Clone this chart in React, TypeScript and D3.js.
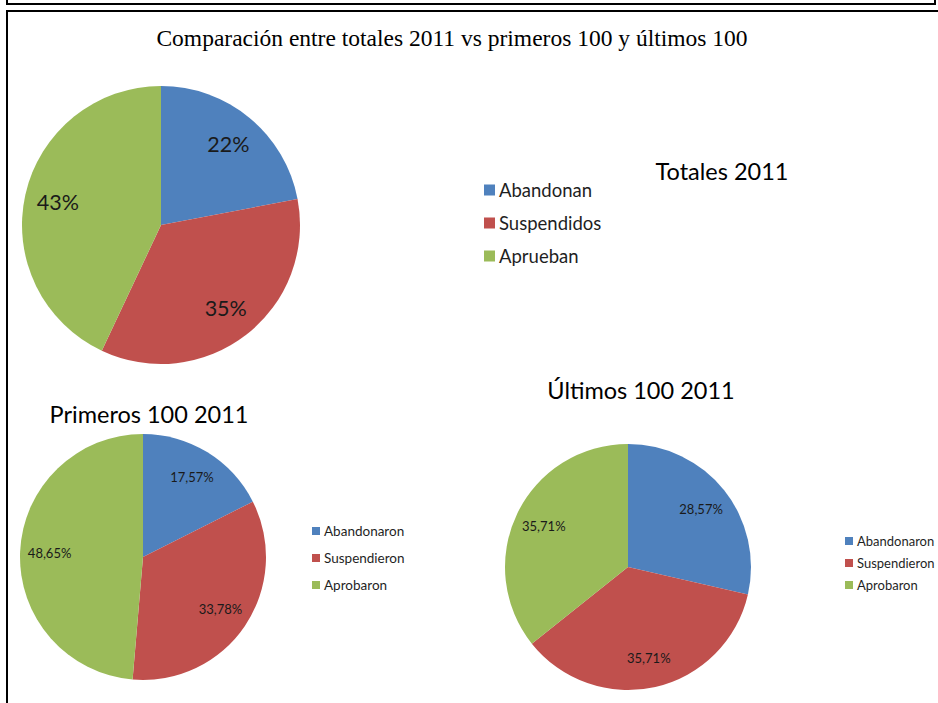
import React from 'react';
import * as d3 from 'd3';

// Datos
const colores = ['#4F81BD', '#C0504D', '#9BBB59'];

const totalesCategorias = ['Abandonan', 'Suspendidos', 'Aprueban'];
const totalesValores = [22, 35, 43];
const totalesEtiquetas = ['22%', '35%', '43%'];

const primerosCategorias = ['Abandonaron', 'Suspendieron', 'Aprobaron'];
const primerosValores = [17.57, 33.78, 48.65];
const primerosEtiquetas = ['17,57%', '33,78%', '48,65%'];

const ultimosCategorias = ['Abandonaron', 'Suspendieron', 'Aprobaron'];
const ultimosValores = [28.57, 35.71, 35.71];
const ultimosEtiquetas = ['28,57%', '35,71%', '35,71%'];

const FONT = 'Lato, Carlito, Calibri, sans-serif';

type PieProps = {
  values: number[];
  labels: string[];
  cx: number;
  cy: number;
  r: number;
  fontSize: number;
};

const Tarta = ({ values, labels, cx, cy, r, fontSize }: PieProps) => {
  const pie = d3.pie<number>().sort(null).value(d => d);
  const arcs = pie(values);
  const arc = d3.arc<d3.PieArcDatum<number>>().innerRadius(0).outerRadius(r);
  const labelArc = d3.arc<d3.PieArcDatum<number>>().innerRadius(r * 0.76).outerRadius(r * 0.76);
  return (
    <g transform={`translate(${cx},${cy})`}>
      {arcs.map((a, i) => (
        <path key={i} d={arc(a) || ''} fill={colores[i]} />
      ))}
      {arcs.map((a, i) => {
        const [x, y] = labelArc.centroid(a);
        return (
          <text key={'t' + i} x={x} y={y} textAnchor="middle" dominantBaseline="central"
            fontFamily={FONT} fontSize={fontSize} fill="#1a1a1a">
            {labels[i]}
          </text>
        );
      })}
    </g>
  );
};

type LegendProps = {
  items: string[];
  x: number;
  ys: number[];
  box: number;
  fontSize: number;
};

const Leyenda = ({ items, x, ys, box, fontSize }: LegendProps) => (
  <g>
    {items.map((t, i) => (
      <g key={t}>
        <rect x={x} y={ys[i] - box / 2} width={box} height={box} fill={colores[i]} />
        <text x={x + box + 4} y={ys[i]} dominantBaseline="central" fontFamily={FONT}
          fontSize={fontSize} fill="#1f1f1f">{t}</text>
      </g>
    ))}
  </g>
);

export default function App() {
  return (
    <div style={{ position: 'absolute', left: 0, top: 0 }}>
      <svg width={938} height={703} style={{ display: 'block', background: '#fff' }}>
        {/* marcos */}
        <path d="M7,0 V4 H935 V0" fill="none" stroke="#000" strokeWidth={2} />
        <path d="M7,703 V11 H938" fill="none" stroke="#000" strokeWidth={2} />

        <text x={452} y={46} textAnchor="middle" fontFamily="'Liberation Serif', 'Times New Roman', serif"
          fontSize={23.5} fill="#000">
          Comparación entre totales 2011 vs primeros 100 y últimos 100
        </text>

        {/* Totales 2011 */}
        <Tarta values={totalesValores} labels={totalesEtiquetas} cx={161} cy={225} r={139} fontSize={21.5} />
        <text x={722} y={180} textAnchor="middle" fontFamily={FONT} fontSize={23.5} fill="#000">Totales 2011</text>
        <Leyenda items={totalesCategorias} x={484} ys={[190, 223, 256]} box={11} fontSize={18.5} />

        {/* Primeros 100 */}
        <Tarta values={primerosValores} labels={primerosEtiquetas} cx={143} cy={557} r={123} fontSize={13} />
        <text x={149} y={423} textAnchor="middle" fontFamily={FONT} fontSize={23.5} fill="#000">Primeros 100 2011</text>
        <Leyenda items={primerosCategorias} x={312} ys={[531, 558, 585]} box={8} fontSize={13.5} />

        {/* Últimos 100 */}
        <Tarta values={ultimosValores} labels={ultimosEtiquetas} cx={628} cy={567} r={123} fontSize={13} />
        <text x={641} y={399} textAnchor="middle" fontFamily={FONT} fontSize={23.5} fill="#000">Últimos 100 2011</text>
        <Leyenda items={ultimosCategorias} x={845} ys={[541, 563, 585]} box={8} fontSize={13} />
      </svg>
    </div>
  );
}
